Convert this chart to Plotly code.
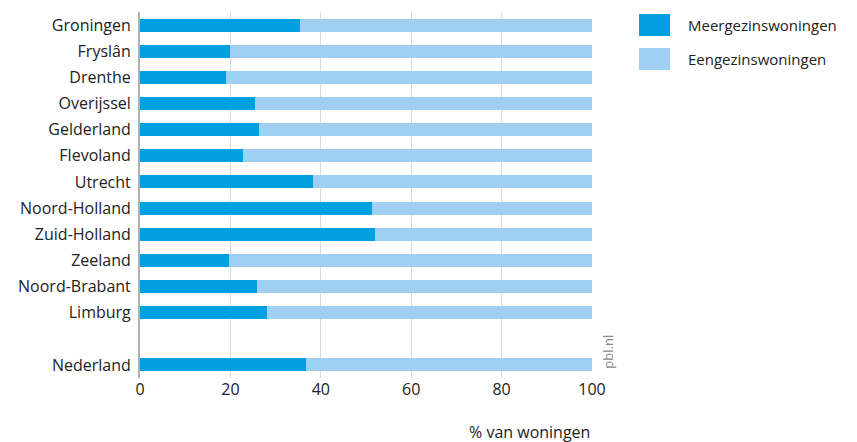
import plotly.graph_objects as go

regions = ["Groningen", "Fryslân", "Drenthe", "Overijssel", "Gelderland", "Flevoland",
           "Utrecht", "Noord-Holland", "Zuid-Holland", "Zeeland", "Noord-Brabant",
           "Limburg", "Nederland"]
meergezins = [35.5, 20.0, 19.1, 25.4, 26.4, 22.8, 38.2, 51.3, 52.0, 19.7, 25.9, 28.0, 36.7]
eengezins = [round(100 - v, 1) for v in meergezins]
series_names = ["Meergezinswoningen", "Eengezinswoningen"]
x_ticks = [0, 20, 40, 60, 80, 100]

DARK = "#009fdf"
LIGHT = "#9fcff2"
FONT = "Open Sans"

# positions: provinces 0..11, gap, Nederland at 13
ypos = [i for i in range(len(regions) - 1)] + [len(regions)]

fig = go.Figure()
fig.add_trace(go.Bar(y=ypos, x=meergezins, orientation="h", name=series_names[0],
                     marker=dict(color=DARK, line=dict(width=0)), width=0.5))
fig.add_trace(go.Bar(y=ypos, x=eengezins, orientation="h", name=series_names[1],
                     marker=dict(color=LIGHT, line=dict(width=0)), width=0.5))

fig.update_layout(
    barmode="stack",
    width=857, height=442,
    margin=dict(l=140, r=265, t=12, b=64, autoexpand=False),
    paper_bgcolor="white", plot_bgcolor="white",
    font=dict(family=FONT, size=16, color="#222222"),
    showlegend=False,
    xaxis=dict(range=[0, 100], tickvals=x_ticks, ticktext=[str(t) for t in x_ticks],
               showgrid=True, gridcolor="#d9d9d9", gridwidth=1, zeroline=False,
               showline=False, ticks="", automargin=False,
               tickfont=dict(size=16, color="#222222")),
    yaxis=dict(range=[len(regions) + 0.5, -0.5], tickvals=ypos, ticktext=regions,
               showgrid=False, zeroline=False, showline=True, linecolor="#b0b0b0",
               linewidth=2, ticks="", ticklabelstandoff=4, automargin=False,
               tickfont=dict(size=16, color="#222222")),
)

# x axis title, right aligned
fig.add_annotation(text="% van woningen", xref="paper", yref="paper", x=1, y=-0.148,
                   xanchor="right", yanchor="middle", showarrow=False,
                   font=dict(size=16, color="#222222"))

# pbl.nl watermark
fig.add_annotation(text="pbl.nl", xref="paper", yref="paper", x=1.0, y=0.02,
                   xanchor="left", yanchor="bottom", xshift=5, textangle=-90,
                   showarrow=False, font=dict(size=13, color="#888888"))

# custom legend
leg_colors = [DARK, LIGHT]
for i, (name, col) in enumerate(zip(series_names, leg_colors)):
    y_top = 14 + i * 34
    fig.add_shape(type="rect", xref="paper", yref="paper",
                  x0=(639 - 140) / 452, x1=(670 - 140) / 452,
                  y0=1 - (y_top - 12) / 366, y1=1 - (y_top + 22 - 12) / 366,
                  fillcolor=col, line=dict(width=0))
    fig.add_annotation(text=name, xref="paper", yref="paper",
                       x=(686 - 140) / 452, y=1 - (y_top + 11 - 12) / 366,
                       xanchor="left", yanchor="middle", showarrow=False,
                       font=dict(size=15, color="#222222"))

fig.write_html("out.html", config={"displayModeBar": False},
               post_script="document.body.style.margin='0';")
